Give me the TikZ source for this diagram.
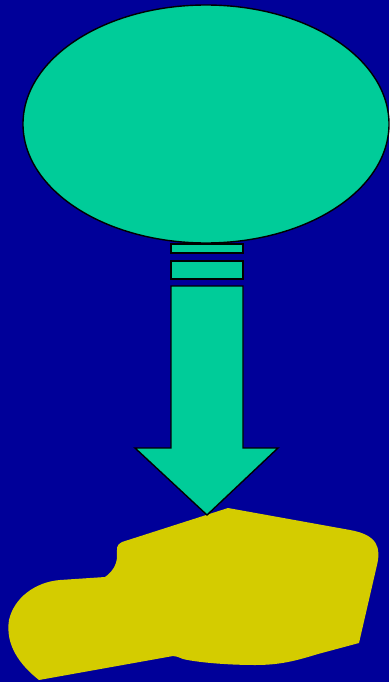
\documentclass[tikz,border=0pt]{standalone}
\usepackage{xcolor}
\usepackage{tikz}
\usetikzlibrary{shapes.geometric,positioning}
\definecolor{deepblue}{RGB}{0,0,153}
\definecolor{mint}{RGB}{0,204,153}
\definecolor{mustard}{RGB}{212,204,0}

\begin{document}
\begin{tikzpicture}[
    x=1pt, y=-1pt,
    bulb/.style={draw, ellipse, line width=1.4pt, fill=mint, minimum width=366pt, minimum height=238pt, inner sep=0pt},
    bar/.style={draw, line width=1.4pt, fill=mint, minimum width=72pt, inner sep=0pt},
    shaft/.style={draw, line width=1.4pt, fill=mint, line join=miter},
    lump/.style={fill=mustard}
]
    \fill[deepblue] (0,0) rectangle (389,682);
    \useasboundingbox (0,0) rectangle (389,682);
    \node[bulb] (bulb) at (206,124) {};
    \node[bar, minimum height=9pt] (bar1) at (207,248.5) {};
    \node[bar, minimum height=18pt] (bar2) at (207,270) {};

    % ground blob
    \fill[lump] (228,508) -- (350,530) .. controls (378,535) and (381,548) .. (377,565)
        -- (359,643) -- (318,654) .. controls (295,661) and (280,665) .. (255,665)
        .. controls (225,665) and (195,662) .. (183,659) .. controls (178,657) and (176,656) .. (173,656)
        -- (39,680) .. controls (20,665) and (5,645) .. (9,620)
        .. controls (14,598) and (35,582) .. (60,580) -- (105,577)
        .. controls (112,572) and (117,565) .. (117,556)
        .. controls (117,548) and (116,545) .. (122,542) -- cycle;

    % block arrow
    \draw[shaft] (171,286) -- (243,286) -- (243,448) -- (278,448) -- (207,515)
        -- (135,448) -- (171,448) -- cycle;
\end{tikzpicture}
\end{document}
